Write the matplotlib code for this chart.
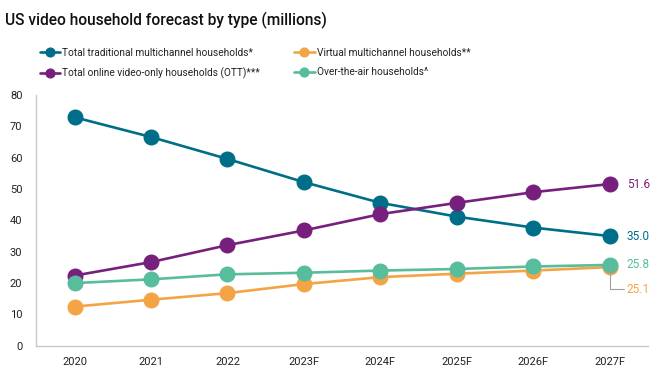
import matplotlib
matplotlib.use("Agg")
import matplotlib.pyplot as plt

years = ["2020", "2021", "2022", "2023F", "2024F", "2025F", "2026F", "2027F"]
traditional = [72.9, 66.6, 59.6, 52.2, 45.6, 41.2, 37.7, 35.0]
virtual = [12.5, 14.7, 16.8, 19.7, 21.9, 23.0, 24.0, 25.1]
ott = [22.4, 26.7, 32.1, 36.8, 42.0, 45.6, 49.0, 51.6]
ota = [20.0, 21.2, 22.8, 23.3, 24.0, 24.5, 25.3, 25.8]

series = [
    ("Total traditional multichannel households*", traditional, "#006e88"),
    ("Virtual multichannel households**", virtual, "#f3a545"),
    ("Total online video-only households (OTT)***", ott, "#771f7d"),
    ("Over-the-air households^", ota, "#58bd9d"),
]

plt.rcParams["font.family"] = ["Roboto", "DejaVu Sans"]

fig = plt.figure(figsize=(6.6, 3.8), dpi=100)
ax = fig.add_axes([0.055, 0.09, 0.927, 0.66])

x = list(range(len(years)))
handles = {}
for name, vals, col in series:
    (h,) = ax.plot(x, vals, color=col, lw=1.9, marker="o", ms=10.5,
                   label=name, solid_capstyle="round")
    handles[name] = h

ax.set_xlim(-0.5, 7.5)
ax.set_ylim(0, 80)
ax.set_yticks(range(0, 81, 10))
ax.set_xticks(x)
ax.set_xticklabels(years)
ax.tick_params(length=0, labelsize=8, colors="#222222")
ax.tick_params(axis="x", pad=8)
ax.tick_params(axis="y", pad=10)
for s in ("top", "right"):
    ax.spines[s].set_visible(False)
for s in ("left", "bottom"):
    ax.spines[s].set_color("#c8c8c8")
    ax.spines[s].set_linewidth(1.0)

# end labels
last = len(years) - 1
ax.text(last + 0.22, ott[-1], f"{ott[-1]:.1f}", color="#771f7d",
        fontsize=8.5, va="center")
ax.text(last + 0.22, traditional[-1], f"{traditional[-1]:.1f}", color="#006e88",
        fontsize=8.5, va="center")
ax.text(last + 0.22, ota[-1], f"{ota[-1]:.1f}", color="#58bd9d",
        fontsize=8.5, va="center")
ax.annotate(f"{virtual[-1]:.1f}", xy=(last, virtual[-1]),
            xytext=(last + 0.22, virtual[-1] - 7), color="#f3a545",
            fontsize=8.5, va="center",
            arrowprops=dict(arrowstyle="-", color="#a0a0a0", lw=0.8,
                            connectionstyle="angle,angleA=0,angleB=90,rad=0",
                            shrinkA=0, shrinkB=0))

fig.text(0.008, 0.945, "US video household forecast by type (millions)",
         fontsize=11.2, fontweight="medium", color="#111111", va="center")

order = [series[0][0], series[2][0], series[1][0], series[3][0]]
leg = fig.legend([handles[n] for n in order], order, ncol=2,
                 loc="upper left", bbox_to_anchor=(0.06, 0.875),
                 frameon=False, fontsize=7.3, handlelength=2.0,
                 handletextpad=0.2, columnspacing=3.4, labelspacing=0.95,
                 markerscale=0.6, borderaxespad=0, borderpad=0)
for t in leg.get_texts():
    t.set_color("#222222")

fig.savefig("out.png", dpi=100)
